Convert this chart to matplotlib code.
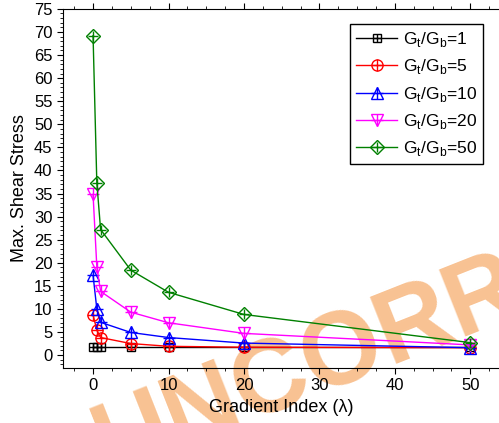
import numpy as np
import matplotlib.pyplot as plt
from matplotlib.ticker import MultipleLocator

plt.rcParams['font.family'] = ['Liberation Sans', 'DejaVu Sans']

lam = [0, 0.5, 1, 5, 10, 20, 50]
ratios = [1, 5, 10, 20, 50]
stress_1 = [1.7, 1.7, 1.7, 1.7, 1.7, 1.7, 1.7]
stress_5 = [8.7, 5.4, 3.8, 2.5, 1.9, 1.7, 1.6]
stress_10 = [17.3, 10.0, 7.1, 4.9, 3.8, 2.6, 1.6]
stress_20 = [34.8, 19.1, 13.8, 9.3, 7.0, 4.7, 2.2]
stress_50 = [69.2, 37.3, 27.2, 18.4, 13.6, 8.8, 2.7]

series = [stress_1, stress_5, stress_10, stress_20, stress_50]
colors = ['black', 'red', 'blue', 'magenta', 'green']
markers = ['s', 'o', '^', 'v', 'D']
msizes = [6, 8, 8, 8, 7]

fig = plt.figure(figsize=(4.99, 4.23), dpi=100)
ax = fig.add_axes([0.126, 0.13, 0.874, 0.849])

# watermark behind the data and the axis labels
fig.text(0.22, -0.123, 'UNCORRECTED', rotation=21.6, rotation_mode='anchor',
         fontsize=74, fontweight='bold', color='#F6A864', alpha=0.7,
         ha='left', va='baseline', zorder=-1)
ax.set_facecolor('none')

handles = []
for ys, c, m, ms, r in zip(series, colors, markers, msizes, ratios):
    ln, = ax.plot(lam, ys, color=c, lw=1, marker=m, ms=ms, mfc='none', mec=c, mew=1)
    pl, = ax.plot(lam, ys, color=c, lw=0, marker='+', ms=ms, mew=1)
    handles.append(((ln, pl), r'G$_\mathregular{t}$/G$_\mathregular{b}$=%d' % r))

leg = ax.legend([h for h, _ in handles], [l for _, l in handles],
                loc='upper right', bbox_to_anchor=(0.963, 0.958), fontsize=12.5,
                frameon=True, fancybox=False, edgecolor='black', framealpha=1,
                handlelength=2.4, labelspacing=0.48, borderpad=0.35,
                handletextpad=0.3, borderaxespad=0)
leg.get_frame().set_linewidth(1)

ax.set_xlim(-4, 53.8)
ax.set_ylim(-2.8, 75)
ax.xaxis.set_major_locator(MultipleLocator(10))
ax.xaxis.set_minor_locator(MultipleLocator(2.5))
ax.yaxis.set_major_locator(MultipleLocator(5))
ax.yaxis.set_minor_locator(MultipleLocator(1))
ax.spines['right'].set_visible(False)
ax.tick_params(which='both', top=True, direction='out', labelsize=12)
ax.tick_params(which='major', length=4)
ax.tick_params(which='minor', length=2)

ax.set_xlabel('Gradient Index (λ)', fontsize=13)
ax.set_ylabel('Max. Shear Stress', fontsize=13)

fig.savefig('out.png', dpi=100)
